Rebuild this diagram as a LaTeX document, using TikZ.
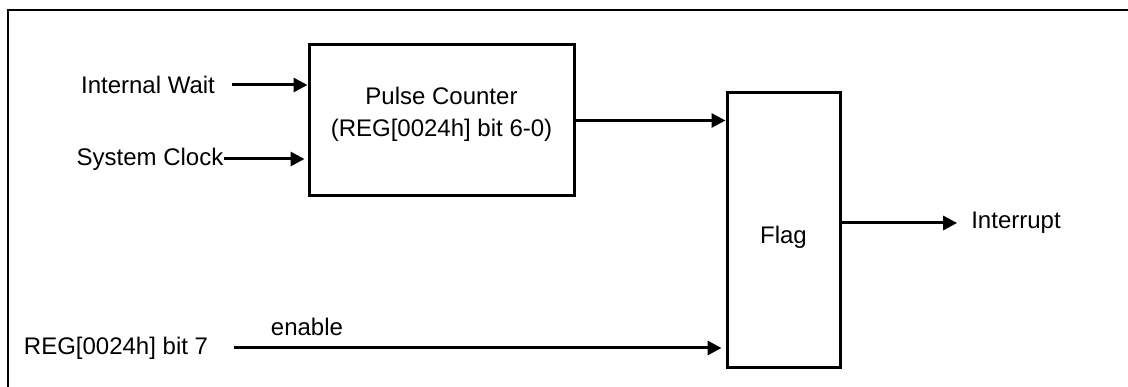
\documentclass[tikz,border=0pt]{standalone}
\usepackage{fontspec}
\setmainfont{Liberation Sans}
\usetikzlibrary{positioning, arrows.meta, calc}

\begin{document}
\begin{tikzpicture}[
  x=1pt, y=-1pt,
  every node/.style={font=\fontsize{24}{32}\selectfont, inner sep=0pt},
  blk/.style={draw, line width=3pt},
  sig/.style={line width=3pt, -{Triangle[length=14pt, width=14pt]}},
]
  \useasboundingbox (0,0) rectangle (1128,387);
  \draw[line width=2pt] (7.5,387) |- (1128,10);

  \node[blk, minimum width=265pt, minimum height=151pt] (pc) at (441.5,120.5) {};
  \node[align=center] (pctext) at (441.5,114) {Pulse Counter\\(REG[0024h] bit 6-0)};
  \node[blk, minimum width=113pt, minimum height=275pt] (flag) at (783.5,230.5) {};
  \node (flagtext) at (783.5,237) {Flag};

  \node (wait) at (148,85) {Internal Wait};
  \node (clk) at (150,159) {System Clock};
  \node (bit7) at (116,348) {REG[0024h] bit 7};
  \node (irq) at (1016,223) {Interrupt};
  \node (en) at (307,327) {enable};

  \draw[sig] ([xshift=17pt]wait.east) -- (wait.east -| pc.west);
  \draw[sig] (clk.east) -- ([xshift=-3pt]clk.east -| pc.west);
  \draw[sig] (pc.east) -- (pc.east -| flag.west);
  \draw[sig] ([xshift=26pt]bit7.east) -- ([xshift=-4pt]bit7.east -| flag.west);
  \draw[sig] (flag.east |- irq.west) -- ([xshift=-14pt]irq.west);
\end{tikzpicture}
\end{document}
